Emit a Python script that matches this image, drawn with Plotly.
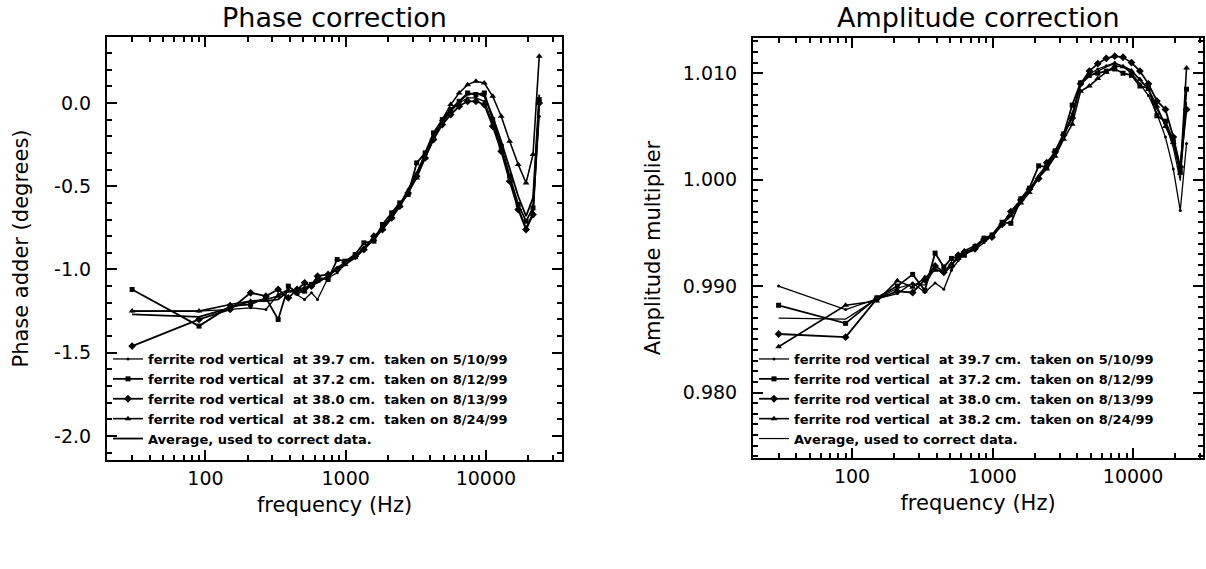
import plotly.graph_objects as go

# ---------------- data ----------------
freq_hz = [30, 90, 150, 210, 270, 330, 390, 450, 510, 570, 630, 750, 870, 990,
           1170, 1350, 1590, 1830, 2130, 2430, 2790, 3210, 3690, 4230, 4890,
           5610, 6450, 7410, 8490, 9750, 11190, 12870, 14790, 17010, 19350,
           21690, 24030]

series_labels = [
    "ferrite rod vertical\u00a0\u00a0at 39.7 cm.\u00a0\u00a0taken on 5/10/99",
    "ferrite rod vertical\u00a0\u00a0at 37.2 cm.\u00a0\u00a0taken on 8/12/99",
    "ferrite rod vertical\u00a0\u00a0at 38.0 cm.\u00a0\u00a0taken on 8/13/99",
    "ferrite rod vertical\u00a0\u00a0at 38.2 cm.\u00a0\u00a0taken on 8/24/99",
]
avg_label = "Average, used to correct data."

# Phase adder (degrees)
phase_s1 = [-1.25, -1.25, -1.24, -1.23, -1.24, -1.15, -1.12, -1.15, -1.18, -1.14,
            -1.18, -1.05, -1.02, -0.97, -0.93, -0.87, -0.81, -0.74, -0.68, -0.61,
            -0.52, -0.42, -0.30, -0.20, -0.12, -0.05, 0.00, 0.03, 0.03, 0.01,
            -0.12, -0.28, -0.46, -0.63, -0.75, -0.66, -0.08]
phase_s2 = [-1.12, -1.34, -1.22, -1.21, -1.17, -1.30, -1.10, -1.14, -1.13, -1.09,
            -1.05, -1.06, -0.94, -0.95, -0.91, -0.84, -0.83, -0.73, -0.66, -0.60,
            -0.55, -0.36, -0.30, -0.18, -0.10, -0.04, 0.01, 0.06, 0.05, 0.06,
            -0.10, -0.26, -0.44, -0.61, -0.71, -0.63, 0.02]
phase_s3 = [-1.46, -1.30, -1.24, -1.14, -1.16, -1.12, -1.17, -1.12, -1.08, -1.10,
            -1.04, -1.03, -1.00, -0.96, -0.92, -0.88, -0.80, -0.76, -0.69, -0.62,
            -0.54, -0.44, -0.33, -0.22, -0.13, -0.07, -0.02, 0.01, 0.01, -0.01,
            -0.14, -0.29, -0.47, -0.64, -0.76, -0.67, 0.00]
phase_s4 = [-1.25, -1.25, -1.21, -1.19, -1.18, -1.16, -1.13, -1.12, -1.11, -1.09,
            -1.07, -1.04, -1.00, -0.97, -0.93, -0.88, -0.82, -0.76, -0.69, -0.62,
            -0.54, -0.45, -0.33, -0.21, -0.10, -0.01, 0.06, 0.11, 0.13, 0.12,
            0.04, -0.08, -0.23, -0.37, -0.48, -0.31, 0.28]
phase_avg = [-1.27, -1.285, -1.23, -1.19, -1.19, -1.18, -1.13, -1.13, -1.12, -1.10,
             -1.08, -1.04, -0.99, -0.96, -0.92, -0.87, -0.81, -0.75, -0.68, -0.61,
             -0.54, -0.42, -0.32, -0.20, -0.11, -0.04, 0.01, 0.05, 0.06, 0.04,
             -0.08, -0.23, -0.40, -0.56, -0.68, -0.57, 0.05]

# Amplitude multiplier
amp_s1 = [0.9900, 0.9878, 0.9888, 0.9893, 0.9903, 0.9894, 0.9903, 0.9897, 0.9915, 0.9924,
          0.9930, 0.9934, 0.9941, 0.9947, 0.9957, 0.9968, 0.9980, 0.9990, 1.0003, 1.0012,
          1.0024, 1.0040, 1.0062, 1.0090, 1.0099, 1.0104, 1.0107, 1.0110, 1.0106, 1.0100,
          1.0090, 1.0079, 1.0062, 1.0040, 1.0010, 0.9971, 1.0034]
amp_s2 = [0.9882, 0.9865, 0.9889, 0.9900, 0.9911, 0.9896, 0.9931, 0.9918, 0.9926, 0.9928,
          0.9929, 0.9937, 0.9945, 0.9948, 0.9960, 0.9959, 0.9982, 0.9992, 1.0013, 1.0012,
          1.0027, 1.0043, 1.0070, 1.0091, 1.0098, 1.0100, 1.0102, 1.0104, 1.0100, 1.0098,
          1.0088, 1.0086, 1.0060, 1.0055, 1.0036, 1.0008, 1.0085]
amp_s3 = [0.9855, 0.9852, 0.9888, 0.9895, 0.9894, 0.9906, 0.9919, 0.9913, 0.9919, 0.9929,
          0.9932, 0.9935, 0.9944, 0.9946, 0.9958, 0.9970, 0.9981, 0.9991, 1.0001, 1.0016,
          1.0026, 1.0042, 1.0058, 1.0090, 1.0102, 1.0109, 1.0114, 1.0116, 1.0115, 1.0110,
          1.0102, 1.0090, 1.0074, 1.0066, 1.0040, 1.0012, 1.0066]
amp_s4 = [0.9843, 0.9882, 0.9886, 0.9905, 0.9899, 0.9908, 0.9915, 0.9914, 0.9921, 0.9926,
          0.9933, 0.9938, 0.9943, 0.9948, 0.9958, 0.9966, 0.9978, 0.9988, 1.0002, 1.0010,
          1.0022, 1.0038, 1.0052, 1.0083, 1.0088, 1.0095, 1.0101, 1.0107, 1.0106, 1.0102,
          1.0094, 1.0085, 1.0069, 1.0050, 1.0035, 1.0006, 1.0105]
amp_avg = [0.9870, 0.9869, 0.9888, 0.9898, 0.9902, 0.9901, 0.9917, 0.9911, 0.9920, 0.9927,
           0.9931, 0.9936, 0.9943, 0.9947, 0.9958, 0.9966, 0.9980, 0.9990, 1.0005, 1.0013,
           1.0025, 1.0041, 1.0061, 1.0089, 1.0097, 1.0102, 1.0106, 1.0109, 1.0107, 1.0103,
           1.0094, 1.0085, 1.0066, 1.0053, 1.0030, 0.9999, 1.0073]

phase_y_ticks = [0.0, -0.5, -1.0, -1.5, -2.0]
phase_y_text = ["0.0", "-0.5", "-1.0", "-1.5", "-2.0"]
amp_y_ticks = [1.010, 1.000, 0.990, 0.980]
amp_y_text = ["1.010", "1.000", "0.990", "0.980"]

# ---------------- layout helpers ----------------
W, H = 1206, 569
FONT = "DejaVu Sans"


def fx(p):
    return p / W


def fy(p):
    return 1 - p / H


symbols = ["circle", "square", "diamond", "triangle-up"]
msizes = [3, 5, 6, 6]
lwidths = [1.3, 1.8, 1.8, 1.6]

fig = go.Figure()

phase_series = [phase_s1, phase_s2, phase_s3, phase_s4]
amp_series = [amp_s1, amp_s2, amp_s3, amp_s4]

for i in range(4):
    fig.add_trace(go.Scatter(
        x=freq_hz, y=phase_series[i], mode="lines+markers", name=series_labels[i],
        line=dict(color="black", width=lwidths[i]),
        marker=dict(symbol=symbols[i], size=msizes[i], color="black"),
        xaxis="x", yaxis="y", legend="legend"))
fig.add_trace(go.Scatter(
    x=freq_hz, y=phase_avg, mode="lines", name=avg_label,
    line=dict(color="black", width=1.8), xaxis="x", yaxis="y", legend="legend"))

for i in range(4):
    fig.add_trace(go.Scatter(
        x=freq_hz, y=amp_series[i], mode="lines+markers", name=series_labels[i],
        line=dict(color="black", width=lwidths[i]),
        marker=dict(symbol=symbols[i], size=msizes[i], color="black"),
        xaxis="x2", yaxis="y2", legend="legend2"))
fig.add_trace(go.Scatter(
    x=freq_hz, y=amp_avg, mode="lines", name=avg_label,
    line=dict(color="black", width=1.2), xaxis="x2", yaxis="y2", legend="legend2"))


def axis_style():
    return dict(
        showline=True, linecolor="black", linewidth=2, mirror="allticks",
        ticks="inside", ticklen=10, tickwidth=2, tickcolor="black",
        showgrid=False, zeroline=False,
        tickfont=dict(family=FONT, size=19, color="black"),
    )


def xaxis_cfg(domain, rng, anchor):
    d = axis_style()
    d.update(
        type="log", domain=domain, range=rng, anchor=anchor,
        dtick=1, exponentformat="none", tickformat="d",
        minor=dict(dtick="D1", ticks="inside", ticklen=5, tickwidth=1.5,
                   tickcolor="black", showgrid=False),
        title=dict(text="frequency (Hz)", standoff=10,
                   font=dict(family=FONT, size=21, color="black")),
    )
    return d


def yaxis_cfg(domain, rng, anchor, vals, texts, mdtick, mtick0, title, standoff):
    d = axis_style()
    d.update(
        domain=domain, range=rng, anchor=anchor,
        tickmode="array", tickvals=vals, ticktext=texts,
        minor=dict(tickmode="linear", dtick=mdtick, tick0=mtick0, ticks="inside",
                   ticklen=5, tickwidth=1.5, tickcolor="black", showgrid=False),
        ticklabelstandoff=10,
        title=dict(text=title, standoff=standoff,
                   font=dict(family=FONT, size=21, color="black")),
    )
    return d


fig.update_layout(
    width=W, height=H, margin=dict(l=0, r=0, t=0, b=0),
    paper_bgcolor="white", plot_bgcolor="white",
    font=dict(family=FONT, color="black"),
    xaxis=xaxis_cfg([fx(107), fx(562)], [1.298, 4.543], "y"),
    yaxis=yaxis_cfg([fy(460), fy(37)], [-2.144, 0.396], "x",
                    phase_y_ticks, phase_y_text, 0.1, 0, "Phase adder (degrees)", 20),
    xaxis2=xaxis_cfg([fx(753), fx(1203)], [1.295, 4.498], "y2"),
    yaxis2=yaxis_cfg([fy(458), fy(38)], [0.97385, 1.01331], "x2",
                     amp_y_ticks, amp_y_text, 0.001, 0.98, "Amplitude multiplier", 16),
    legend=dict(x=fx(108), y=fy(344), xanchor="left", yanchor="top",
                bgcolor="rgba(0,0,0,0)", borderwidth=0, itemwidth=30,
                font=dict(family=FONT, size=13, color="black", weight="bold"),
                tracegroupgap=0),
    legend2=dict(x=fx(754), y=fy(344), xanchor="left", yanchor="top",
                 bgcolor="rgba(0,0,0,0)", borderwidth=0, itemwidth=30,
                 font=dict(family=FONT, size=13, color="black", weight="bold"),
                 tracegroupgap=0),
    showlegend=True,
    annotations=[
        dict(text="Phase correction", x=fx(334), y=fy(17), xref="paper", yref="paper",
             showarrow=False, xanchor="center", yanchor="middle",
             font=dict(family=FONT, size=27, color="black")),
        dict(text="Amplitude correction", x=fx(978), y=fy(17), xref="paper", yref="paper",
             showarrow=False, xanchor="center", yanchor="middle",
             font=dict(family=FONT, size=27, color="black")),
    ],
)

fig.write_html("out.html")
